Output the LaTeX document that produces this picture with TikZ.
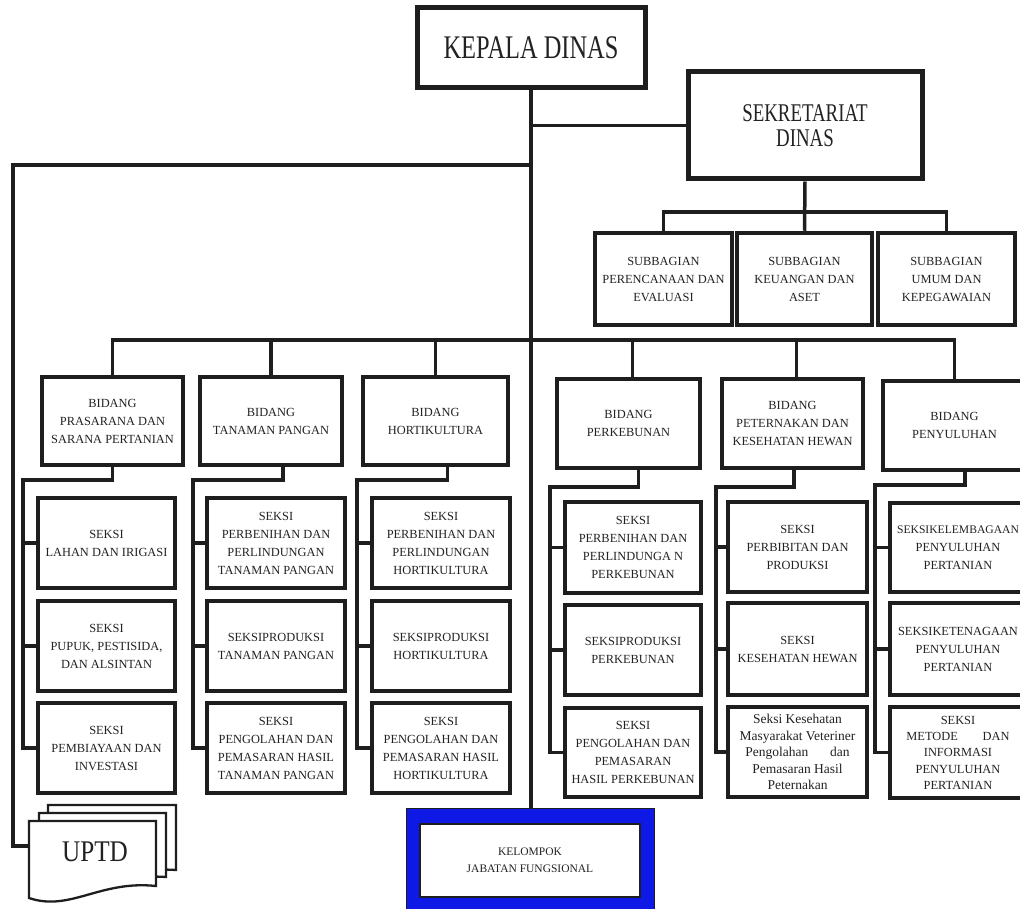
\documentclass[tikz,border=0pt]{standalone}
\usepackage{fontspec}
\setmainfont{Liberation Serif}
\newfontfamily\condfont[FakeStretch=0.74]{Liberation Serif}
\newfontfamily\uptdfont[FakeStretch=0.84]{Liberation Serif}
\definecolor{ln}{HTML}{1E1E1E}
\definecolor{kblue}{RGB}{15,25,230}
\definecolor{tx}{HTML}{222222}
\begin{document}
\begin{tikzpicture}[x=1pt,y=-1pt,
  box/.style={draw=ln, line width=4.5pt, fill=white, inner sep=0pt, align=center, text=tx, font=\fontsize{12.4}{18}\selectfont},
  conn/.style={draw=ln, line width=3.5pt},
  doc/.style={draw=ln, line width=2.3pt, fill=white, line join=miter}]
\useasboundingbox (0,0) rectangle (1020,909);
\clip (0,0) rectangle (1020,909);

% top level
\node[box, line width=5pt, minimum width=228, minimum height=80, font=\condfont\fontsize{33}{33}\selectfont] (kepala) at (531,48) {KEPALA DINAS};
\node[box, line width=5pt, minimum width=234, minimum height=107, font=\condfont\fontsize{25.5}{25}\selectfont] (sek) at (805,125.5) {SEKRETARIAT\\DINAS};

% subbagian
\node[box, minimum width=137, minimum height=92] (sub1) at (663.5,279) {SUBBAGIAN\\PERENCANAAN DAN\\EVALUASI};
\node[box, minimum width=135, minimum height=92] (sub2) at (804.5,279) {SUBBAGIAN\\KEUANGAN DAN\\ASET};
\node[box, minimum width=137, minimum height=92] (sub3) at (946.5,279) {SUBBAGIAN\\UMUM DAN\\KEPEGAWAIAN};

% bidang
\node[box, minimum width=141, minimum height=88] (b1) at (112.5,421) {BIDANG\\PRASARANA DAN\\SARANA PERTANIAN};
\node[box, minimum width=142, minimum height=88] (b2) at (271,421) {BIDANG\\TANAMAN PANGAN};
\node[box, minimum width=145, minimum height=88] (b3) at (435.5,421) {BIDANG\\HORTIKULTURA};
\node[box, minimum width=143, minimum height=89] (b4) at (628.5,423.5) {BIDANG\\PERKEBUNAN};
\node[box, minimum width=141, minimum height=89] (b5) at (792.5,423.5) {BIDANG\\PETERNAKAN DAN\\KESEHATAN HEWAN};
\node[box, minimum width=143, minimum height=89] (b6) at (954.5,425.5) {BIDANG\\PENYULUHAN};

% seksi column 1
\node[box, minimum width=137, minimum height=90] (k11) at (106.5,543) {SEKSI\\LAHAN DAN IRIGASI};
\node[box, minimum width=137, minimum height=90] (k12) at (106.5,646) {SEKSI\\PUPUK, PESTISIDA,\\DAN ALSINTAN};
\node[box, minimum width=137, minimum height=90] (k13) at (106.5,748) {SEKSI\\PEMBIAYAAN DAN\\INVESTASI};
% column 2
\node[box, minimum width=138, minimum height=90] (k21) at (276,543) {SEKSI\\PERBENIHAN DAN\\PERLINDUNGAN\\TANAMAN PANGAN};
\node[box, minimum width=138, minimum height=90] (k22) at (276,646) {SEKSIPRODUKSI\\TANAMAN PANGAN};
\node[box, minimum width=138, minimum height=90] (k23) at (276,748) {SEKSI\\PENGOLAHAN DAN\\PEMASARAN HASIL\\TANAMAN PANGAN};
% column 3
\node[box, minimum width=138, minimum height=90] (k31) at (441,543) {SEKSI\\PERBENIHAN DAN\\PERLINDUNGAN\\HORTIKULTURA};
\node[box, minimum width=138, minimum height=90] (k32) at (441,646) {SEKSIPRODUKSI\\HORTIKULTURA};
\node[box, minimum width=138, minimum height=90] (k33) at (441,748) {SEKSI\\PENGOLAHAN DAN\\PEMASARAN HASIL\\HORTIKULTURA};
% column 4
\node[box, minimum width=136, minimum height=91] (k41) at (633,547.5) {SEKSI\\PERBENIHAN DAN\\PERLINDUNGA N\\PERKEBUNAN};
\node[box, minimum width=136, minimum height=90] (k42) at (633,650) {SEKSIPRODUKSI\\PERKEBUNAN};
\node[box, minimum width=136, minimum height=89] (k43) at (633,752.5) {SEKSI\\PENGOLAHAN DAN\\PEMASARAN\\HASIL PERKEBUNAN};
% column 5
\node[box, minimum width=139, minimum height=90] (k51) at (797.5,547) {SEKSI\\PERBIBITAN DAN\\PRODUKSI};
\node[box, minimum width=139, minimum height=92] (k52) at (797.5,649) {SEKSI\\KESEHATAN HEWAN};
\node[box, minimum width=139, minimum height=90, font=\fontsize{13.5}{16.5}\selectfont] (k53) at (797.5,752) {Seksi Kesehatan\\Masyarakat Veteriner\\Pengolahan\hspace{1.6em}dan\\Pemasaran Hasil\\Peternakan};
% column 6
\node[box, minimum width=136, minimum height=89] (k61) at (958,547.5) {{\fontsize{11.6}{18}\selectfont SEKSIKELEMBAGAAN}\\PENYULUHAN\\PERTANIAN};
\node[box, minimum width=136, minimum height=92] (k62) at (958,649) {SEKSIKETENAGAAN\\PENYULUHAN\\PERTANIAN};
\node[box, minimum width=136, minimum height=91, font=\fontsize{12.4}{16}\selectfont] (k63) at (958,752.5) {SEKSI\\METODE\hspace{2em}DAN\\INFORMASI\\[1pt]PENYULUHAN\\PERTANIAN};

% kelompok jabatan fungsional
\node[draw=ln, line width=1pt, fill=kblue, minimum width=248, minimum height=107, inner sep=0pt] (kelompok) at (530,861.5) {};
\node[draw=ln, line width=1.5pt, fill=white, minimum width=220, minimum height=73, inner sep=0pt, align=center, text=tx, font=\fontsize{11.5}{17}\selectfont] (kelompokin) at (530,860.5) {KELOMPOK\\JABATAN FUNGSIONAL};

% UPTD stacked documents
\draw[doc] (48,805) -- (176,805) -- (176,870) .. controls (120,866) and (90,892) .. (48,882) -- cycle;
\draw[doc] (39,813) -- (166,813) -- (166,877) .. controls (110,873) and (80,899) .. (39,890) -- cycle;
\draw[doc] (29,821) -- (156,821) -- (156,886) .. controls (100,880) and (70,912) .. (29,898) -- cycle;
\node[font=\uptdfont\fontsize{30}{30}\selectfont, text=tx] (uptd) at (95,852) {UPTD};

% helper coordinates
\coordinate (lc) at (13,165);
\coordinate (uptdin) at (29,846);
\coordinate (sbar) at (805,212);
\coordinate (bar) at (531,340);
\coordinate (sp1) at (23,480);
\coordinate (sp2) at (193,480);
\coordinate (sp3) at (357,480);
\coordinate (sp4) at (550,487);
\coordinate (sp5) at (716,487);
\coordinate (sp6) at (875,485);

% main connectors
\draw[conn] (kepala.south) -- (kepala.south |- kelompok.north);
\draw[conn] (kepala.south |- sek.west) -- (sek.west);
\draw[conn] (kepala.south |- lc) -- (lc) |- (uptdin);

% sekretariat to subbagian
\draw[conn] (sek.south) -- (sub2.north);
\draw[conn] (sub1.north) |- (sub3.north |- sbar) -- (sub3.north);

% bidang bar
\draw[conn] (b1.north) |- (b6.north |- bar) -- (b6.north);
\draw[conn] (b2.north) -- (b2.north |- bar);
\draw[conn] (b3.north) -- (b3.north |- bar);
\draw[conn] ([xshift=4pt]b4.north) -- ([xshift=4pt]b4.north |- bar);
\draw[conn] ([xshift=4pt]b5.north) -- ([xshift=4pt]b5.north |- bar);

% seksi groups
\draw[conn] (b1.south) |- (sp1) |- (k13.west);
\draw[conn] (sp1 |- k11.west) -- (k11.west);
\draw[conn] (sp1 |- k12.west) -- (k12.west);

\draw[conn] ([xshift=12pt]b2.south) |- (sp2) |- (k23.west);
\draw[conn] (sp2 |- k21.west) -- (k21.west);
\draw[conn] (sp2 |- k22.west) -- (k22.west);

\draw[conn] ([xshift=12pt]b3.south) |- (sp3) |- (k33.west);
\draw[conn] (sp3 |- k31.west) -- (k31.west);
\draw[conn] (sp3 |- k32.west) -- (k32.west);

\draw[conn] ([xshift=10pt]b4.south) |- (sp4) |- (k43.west);
\draw[conn] (sp4 |- k41.west) -- (k41.west);
\draw[conn] (sp4 |- k42.west) -- (k42.west);

\draw[conn] ([xshift=1.5pt]b5.south) |- (sp5) |- (k53.west);
\draw[conn] (sp5 |- k51.west) -- (k51.west);
\draw[conn] (sp5 |- k52.west) -- (k52.west);

\draw[conn] ([xshift=10.5pt]b6.south) |- (sp6) |- (k63.west);
\draw[conn] (sp6 |- k61.west) -- (k61.west);
\draw[conn] (sp6 |- k62.west) -- (k62.west);
\end{tikzpicture}
\end{document}
